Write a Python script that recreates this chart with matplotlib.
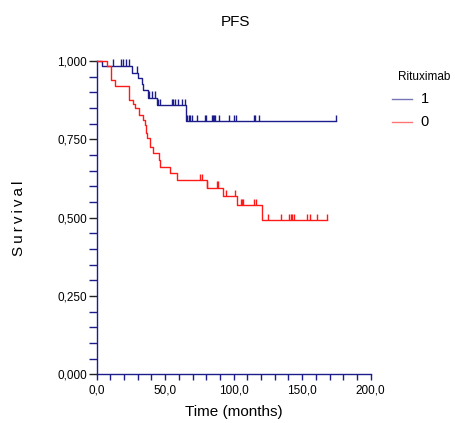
import numpy as np
import matplotlib.pyplot as plt
from matplotlib.lines import Line2D
from matplotlib.ticker import MultipleLocator, FuncFormatter

plt.rcParams['font.family'] = ['Liberation Sans', 'DejaVu Sans']

# Kaplan-Meier steps: event times (months) and survival after each event
rtx_times = [4.2, 25.5, 30.4, 33.0, 34.0, 37.2, 43.8, 65.2]
rtx_surv = [0.985, 0.963, 0.945, 0.926, 0.907, 0.883, 0.860, 0.809]
rtx_censored = [11.7, 17.5, 19.4, 21.4, 23.4, 29.2, 38.2, 40.1, 42.6, 44.5,
                46.2, 54.7, 56.0, 57.2, 59.6, 62.5, 64.5, 66.1, 67.2, 68.1,
                69.3, 73.4, 78.8, 79.8, 83.9, 84.7, 85.4, 86.1, 89.5, 96.8,
                100.4, 101.4, 114.8, 115.5, 118.3, 174.7]

no_rtx_times = [7.3, 10.4, 13.4, 23.8, 26.7, 28.0, 31.1, 34.0, 35.0, 36.0,
                37.0, 39.0, 41.3, 45.5, 46.5, 53.5, 58.4, 80.7, 92.0, 102.2,
                120.9]
no_rtx_surv = [0.983, 0.940, 0.919, 0.877, 0.863, 0.850, 0.829, 0.813, 0.797,
               0.771, 0.754, 0.727, 0.706, 0.684, 0.663, 0.642, 0.620, 0.596,
               0.569, 0.541, 0.493]
no_rtx_censored = [75.4, 76.6, 80.7, 87.6, 88.8, 94.1, 101.0, 105.1, 105.8,
                   106.6, 115.0, 116.0, 125.3, 134.3, 140.6, 141.8, 142.8,
                   143.8, 153.7, 155.7, 160.6, 168.3]

group_labels = ['1', '0']

NAVY = '#1c1c8a'
RED = '#ff1a1a'


def km_curve(ax, times, surv, censored, last, color):
    t = np.concatenate(([0.0], times, [last]))
    s = np.concatenate(([1.0], surv, [surv[-1]]))
    ax.step(t, s, where='post', color=color, lw=1.0, clip_on=False, zorder=3)
    # censor marks drawn as small upward ticks at the current survival level
    idx = np.searchsorted(t, censored, side='right') - 1
    lvl = s[idx]
    ax.vlines(censored, lvl, lvl + 0.02, color=color, lw=1.0,
              clip_on=False, zorder=3)


fig = plt.figure(figsize=(4.55, 4.23), dpi=100)
ax = fig.add_axes([0.2125, 0.1147, 0.6022, 0.7411])

km_curve(ax, rtx_times, rtx_surv, rtx_censored, 174.7, NAVY)
km_curve(ax, no_rtx_times, no_rtx_surv, no_rtx_censored, 168.3, RED)

ax.set_xlim(0, 200)
ax.set_ylim(0, 1)
for side in ['top', 'right']:
    ax.spines[side].set_visible(False)
for side in ['left', 'bottom']:
    ax.spines[side].set_color(NAVY)
    ax.spines[side].set_linewidth(1.0)

ax.xaxis.set_major_locator(MultipleLocator(50))
ax.xaxis.set_minor_locator(MultipleLocator(10))
ax.yaxis.set_major_locator(MultipleLocator(0.25))
ax.yaxis.set_minor_locator(MultipleLocator(0.05))
ax.xaxis.set_major_formatter(FuncFormatter(lambda v, p: f'{v:.1f}'.replace('.', ',')))
ax.yaxis.set_major_formatter(FuncFormatter(lambda v, p: f'{v:.3f}'.replace('.', ',')))
ax.tick_params(axis='y', which='both', direction='out', length=6, width=1,
               color=NAVY, labelsize=8.5, pad=1)
ax.tick_params(axis='y', which='major', color='#222222')
ax.tick_params(axis='x', which='both', direction='out', length=4, width=1,
               color=NAVY, labelsize=8.5, pad=3)

ax.set_xlabel('Time (months)', fontsize=11, labelpad=6)
fig.text(0.042, 0.485, '\u2009'.join('Survival'), rotation=90, fontsize=11,
         ha='center', va='center')
fig.text(0.5176, 0.949, 'PFS', fontsize=11, ha='center', va='center')

# legend laid out by hand in figure coordinates
fig.text(0.874, 0.818, 'Rituximab', fontsize=8.5, ha='left', va='center')
for lbl, col, yy in zip(group_labels, [NAVY, RED], [0.765, 0.712]):
    fig.add_artist(Line2D([0.862, 0.906], [yy, yy], color=col, lw=1.0,
                          alpha=0.6, transform=fig.transFigure))
    fig.text(0.934, yy, lbl, fontsize=10.5, ha='center', va='center')

fig.savefig('out.png', dpi=100)
